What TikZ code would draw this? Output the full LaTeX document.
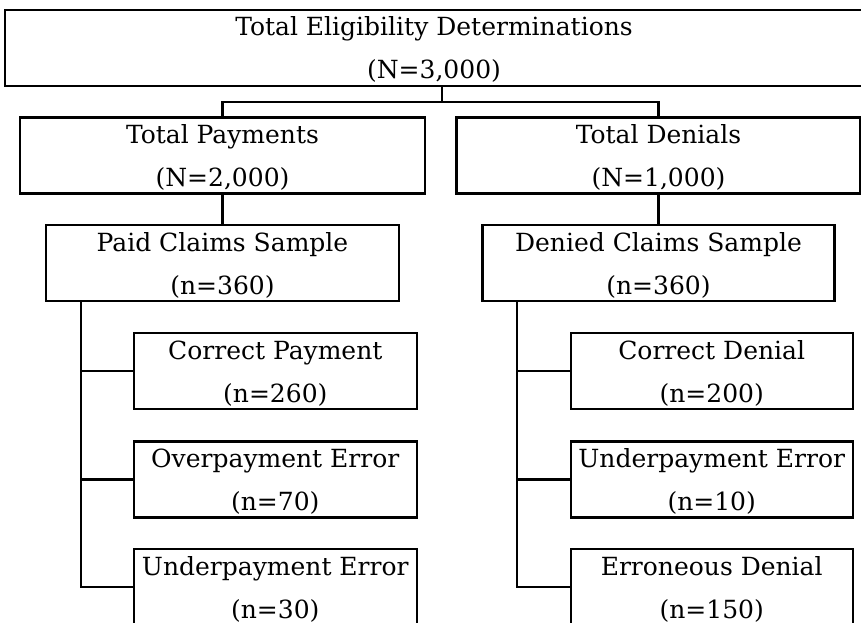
\documentclass[tikz,border=0pt]{standalone}
\usepackage{fontspec}
\setmainfont{DejaVu Serif}
\usepackage{tikz}
\usetikzlibrary{positioning, calc}
\tikzstyle{countbox} = [
  rectangle, draw=black, line width=2.3pt,
  align=center, inner sep=1pt,
  minimum height=76pt, text depth=-1pt,
  font=\fontsize{25}{43}\selectfont
]
\tikzstyle{link} = [line width=2.3pt, line join=miter]

\begin{document}
\begin{tikzpicture}[x=1pt, y=-1pt]
  \useasboundingbox (0,0) rectangle (861,623);

  \node[countbox, minimum width=858pt] (total) at (434,48) {Total Eligibility Determinations\\(N=3,000)};

  \node[countbox, minimum width=405pt] (payments) at (222.5,155.5) {Total Payments\\(N=2,000)};
  \node[countbox, minimum width=404pt] (denials) at (658.5,155.5) {Total Denials\\(N=1,000)};

  \node[countbox, minimum width=353pt] (paid) at (222.5,263.3) {Paid Claims Sample\\(n=360)};
  \node[countbox, minimum width=352pt] (denied) at (658.5,263.3) {Denied Claims Sample\\(n=360)};

  % paid claims outcomes
  \node[countbox, minimum width=283pt] (correctpay) at (275.3,371.3) {Correct Payment\\(n=260)};
  \node[countbox, minimum width=283pt] (overpay) at (275.3,479.5) {Overpayment Error\\(n=70)};
  \node[countbox, minimum width=283pt] (underpay) at (275.3,587.3) {Underpayment Error\\(n=30)};

  % denied claims outcomes
  \node[countbox, minimum width=282pt] (correctden) at (711.7,371.3) {Correct Denial\\(n=200)};
  \node[countbox, minimum width=282pt] (underden) at (711.7,479.5) {Underpayment Error\\(n=10)};
  \node[countbox, minimum width=282pt] (wrongden) at (711.7,587.3) {Erroneous Denial\\(n=150)};

  \coordinate (split) at (442,101.7);
  \coordinate (paidtrunk) at ($(paid.south west)+(36.3,0)$);
  \coordinate (deniedtrunk) at ($(denied.south west)+(35.5,0)$);

  \draw[link] (total.south -| split) -- (split);
  \draw[link] (payments.north) |- (split) -| (denials.north);
  \draw[link] (payments) -- (paid);
  \draw[link] (denials) -- (denied);

  \draw[link] (paidtrunk) |- (correctpay.west);
  \draw[link] (paidtrunk) |- (overpay.west);
  \draw[link] (paidtrunk) |- (underpay.west);

  \draw[link] (deniedtrunk) |- (correctden.west);
  \draw[link] (deniedtrunk) |- (underden.west);
  \draw[link] (deniedtrunk) |- (wrongden.west);

\end{tikzpicture}
\end{document}
